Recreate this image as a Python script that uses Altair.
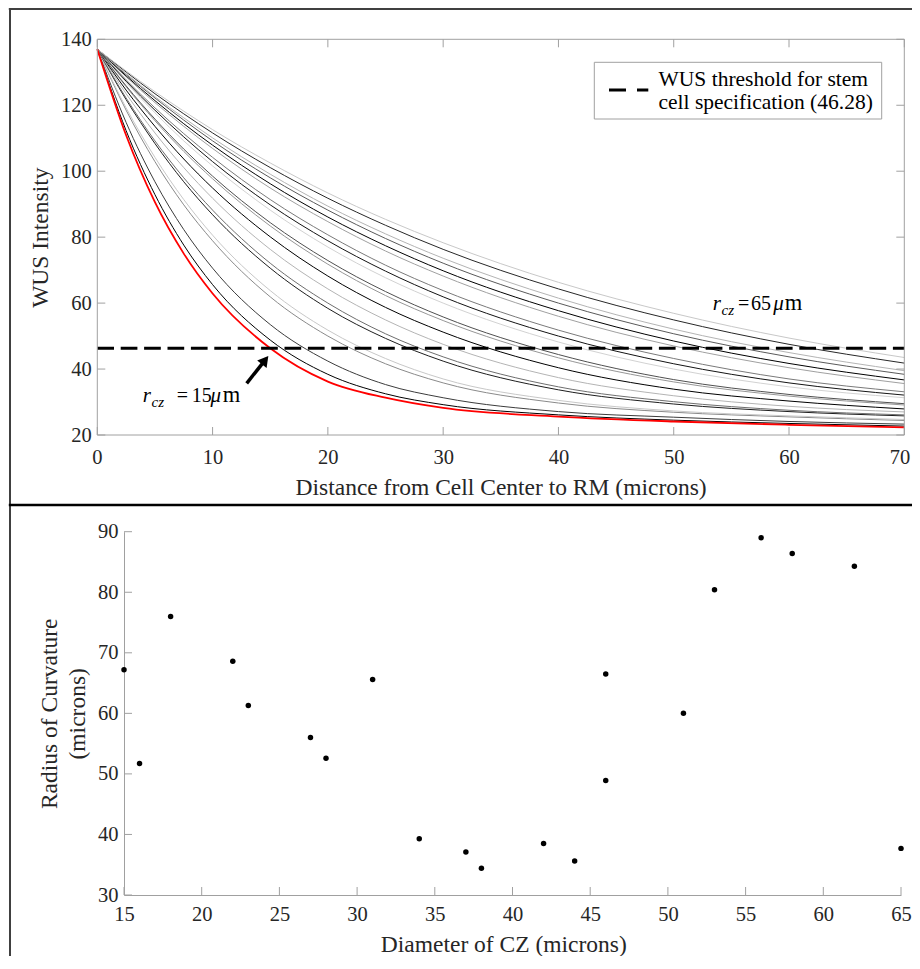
import altair as alt
import pandas as pd

FONT = "Liberation Serif"
TXT = "#262626"
AXC = "#a0a0a0"

# ---------------- data: top panel (WUS intensity profiles) ----------------
distance = [0, 2.5, 5, 7.5, 10, 15, 20, 25, 30, 40, 50, 60, 70]
r_cz = [16, 18, 22, 23, 27, 28, 31, 34, 37, 38, 42, 44, 46, 51, 53, 56, 58, 62, 65]
wus_r15 = [137, 110.9, 90.6, 75.0, 62.9, 46.3, 36.2, 31.3, 28.2, 25.6, 24.1, 23.1, 22.3]
wus_r16 = [137, 112.3, 92.9, 77.6, 65.6, 48.8, 38.4, 32.5, 29.2, 26.1, 24.5, 23.5, 22.7]
wus_r18 = [137, 114.8, 96.8, 82.3, 70.6, 53.5, 42.4, 35.3, 31.3, 27.1, 25.4, 24.1, 23.3]
wus_r22 = [137, 118.5, 102.9, 89.8, 78.9, 61.9, 50.0, 41.6, 35.8, 29.7, 26.9, 25.5, 24.4]
wus_r23 = [137, 119.2, 104.2, 91.4, 80.6, 63.8, 51.8, 43.2, 37.0, 30.5, 27.3, 25.8, 24.7]
wus_r27 = [137, 121.7, 108.4, 96.8, 86.8, 70.6, 58.4, 49.3, 42.4, 33.7, 29.4, 27.1, 25.8]
wus_r28 = [137, 122.2, 109.2, 98.0, 88.2, 72.1, 60.0, 50.7, 43.7, 34.6, 30.1, 27.5, 26.1]
wus_r31 = [137, 123.5, 111.6, 101.1, 91.8, 76.3, 64.3, 54.9, 47.5, 37.4, 31.9, 28.7, 27.0]
wus_r34 = [137, 124.6, 113.6, 103.7, 94.9, 80.1, 68.2, 58.7, 51.2, 40.4, 33.9, 30.3, 27.9]
wus_r37 = [137, 125.6, 115.3, 106.0, 97.7, 83.4, 71.8, 62.3, 54.7, 43.4, 36.1, 31.8, 29.1]
wus_r38 = [137, 125.9, 115.8, 106.7, 98.5, 84.4, 72.9, 63.5, 55.8, 44.4, 36.8, 32.3, 29.5]
wus_r42 = [137, 126.9, 117.7, 109.2, 101.6, 88.2, 77.0, 67.7, 60.0, 48.2, 40.0, 34.6, 31.3]
wus_r44 = [137, 127.3, 118.5, 110.4, 102.9, 89.8, 78.9, 69.7, 61.9, 50.0, 41.6, 35.8, 32.1]
wus_r46 = [137, 127.7, 119.2, 111.4, 104.2, 91.4, 80.7, 71.5, 63.8, 51.8, 43.2, 37.0, 33.1]
wus_r51 = [137, 128.6, 120.8, 113.6, 106.9, 94.9, 84.7, 75.8, 68.2, 56.0, 47.0, 40.4, 35.6]
wus_r53 = [137, 128.9, 121.4, 114.4, 107.9, 96.2, 86.1, 77.4, 69.8, 57.7, 48.5, 41.7, 36.7]
wus_r56 = [137, 129.3, 122.2, 115.5, 109.2, 98.0, 88.2, 79.6, 72.1, 60.0, 50.7, 43.7, 38.4]
wus_r58 = [137, 129.6, 122.6, 116.2, 110.1, 99.1, 89.4, 81.0, 73.6, 61.5, 52.1, 45.0, 39.5]
wus_r62 = [137, 130.1, 123.5, 117.4, 111.6, 101.1, 91.8, 83.6, 76.3, 64.3, 54.9, 47.5, 41.8]
wus_r65 = [137, 130.4, 124.1, 118.2, 112.6, 102.5, 93.4, 85.4, 78.3, 66.3, 56.9, 49.4, 43.5]
gray_curves = [wus_r16, wus_r18, wus_r22, wus_r23, wus_r27, wus_r28, wus_r31, wus_r34,
               wus_r37, wus_r38, wus_r42, wus_r44, wus_r46, wus_r51, wus_r53, wus_r56,
               wus_r58, wus_r62, wus_r65]
shades = ["#000000", "#3c3c3c", "#8a8a8a", "#c8c8c8", "#1e1e1e", "#6e6e6e", "#b4b4b4",
          "#000000", "#969696", "#505050", "#d2d2d2", "#141414", "#7a7a7a", "#a0a0a0",
          "#000000", "#5a5a5a", "#b4b4b4", "#282828", "#c8c8c8"]
threshold = [46.28]
top_xticks = [0, 10, 20, 30, 40, 50, 60, 70]
top_yticks = [20, 40, 60, 80, 100, 120, 140]

# ---------------- data: bottom panel (scatter) ----------------
diameter_cz = [15, 16, 18, 22, 23, 27, 28, 31, 34, 37, 38, 42, 44, 46, 46, 51, 53, 56, 58, 62, 65]
radius_curv = [67.2, 51.7, 76.0, 68.6, 61.3, 56.0, 52.6, 65.6, 39.3, 37.1, 34.4, 38.5, 35.6,
               66.5, 48.9, 60.0, 80.4, 89.0, 86.4, 84.3, 37.7]
bot_xticks = [15, 20, 25, 30, 35, 40, 45, 50, 55, 60, 65]
bot_yticks = [30, 40, 50, 60, 70, 80, 90]

# ---------------- tables ----------------
rows = []
for r, vals, col in zip(r_cz, gray_curves, shades):
    for d, v in zip(distance, vals):
        rows.append({"d": d, "wus": v, "r": r, "col": col})
curves_df = pd.DataFrame(rows)
red_df = pd.DataFrame({"d": distance, "wus": wus_r15})
thr_df = pd.DataFrame({"y": threshold})
txk = pd.DataFrame({"v": top_xticks})
tyk = pd.DataFrame({"v": top_yticks})
bxk = pd.DataFrame({"v": bot_xticks})
byk = pd.DataFrame({"v": bot_yticks})
sc_df = pd.DataFrame({"dcz": diameter_cz, "roc": radius_curv})
one = pd.DataFrame({"k": [0]})

# ---------------- geometry (pixels, relative to the view origin) ----------------
W = 807
TOP_H = 395.7
BOT_TOP = 492.4
BOT_BOT = 855.7
BOT_L = 26.7
BOT_R = 803.7
TICK = 8

topX = alt.Scale(domain=[0, 70], range=[0, W], nice=False, zero=False)
topY = alt.Scale(domain=[20, 140], range=[TOP_H, 0], nice=False, zero=False)
botX = alt.Scale(domain=[15, 65], range=[BOT_L, BOT_R], nice=False, zero=False)
botY = alt.Scale(domain=[30, 90], range=[BOT_BOT, BOT_TOP], nice=False, zero=False)

ax_common = dict(grid=False, ticks=False, labelFont=FONT, labelFontSize=20.5,
                 labelColor=TXT, titleFont=FONT, titleFontSize=23.5,
                 titleFontWeight="normal", titleColor=TXT,
                 labelOverlap=False, titleBaseline="alphabetic", titleAlign="center")

top_x_axis = alt.Axis(orient="bottom", offset=-(BOT_BOT - TOP_H), values=top_xticks,
                      domain=False, labelPadding=12, format="d",
                      labelFlush=True, labelFlushOffset=5.5,
                      title="Distance from Cell Center to RM (microns)",
                      titleX=403.3, titleY=59.8, **ax_common)
top_y_axis = alt.Axis(orient="left", values=top_yticks, domain=False, labelPadding=6,
                      format="d", labelFlush=False, title="WUS Intensity",
                      titleX=-50.1, titleY=197.9, **ax_common)
bot_x_axis = alt.Axis(orient="bottom", values=bot_xticks, domain=True, domainColor=AXC,
                      domainWidth=1, labelPadding=9.4, format="d", labelFlush=False,
                      title="Diameter of CZ (microns)", titleX=406, titleY=56.0, **ax_common)
bot_y_axis = alt.Axis(orient="left", offset=-BOT_L, values=bot_yticks, domain=True,
                      domainColor=AXC, domainWidth=1, labelPadding=6, format="d",
                      labelFlush=False, title=["Radius of Curvature", "(microns)"],
                      titleX=-67.5, titleY=674, titleLineHeight=28, **ax_common)

# ---------------- top panel layers ----------------
gray_lines = alt.Chart(curves_df).mark_line(strokeWidth=1, interpolate="monotone").encode(
    x=alt.X("d:Q", scale=topX, axis=top_x_axis),
    y=alt.Y("wus:Q", scale=topY, axis=top_y_axis),
    color=alt.Color("col:N", scale=None),
    detail="r:N",
)
red_line = alt.Chart(red_df).mark_line(strokeWidth=1.8, color="#ff0000", interpolate="monotone").encode(
    x=alt.X("d:Q", scale=topX, axis=None),
    y=alt.Y("wus:Q", scale=topY, axis=None),
)
thr_line = alt.Chart(thr_df).mark_rule(color="black", strokeWidth=3, strokeDash=[16.7, 6.7]).encode(
    y=alt.Y("y:Q", scale=topY, axis=None), x=alt.value(0), x2=alt.value(W)
)
box = alt.Chart(one).mark_rect(fill=None, stroke=AXC, strokeWidth=1).encode(
    x=alt.value(0), x2=alt.value(W), y=alt.value(0), y2=alt.value(TOP_H)
)
tk = dict(color=AXC, strokeWidth=1)
t_xb = alt.Chart(txk).mark_rule(**tk).encode(
    x=alt.X("v:Q", scale=topX, axis=None), y=alt.value(TOP_H), y2=alt.value(TOP_H - TICK))
t_xt = alt.Chart(txk).mark_rule(**tk).encode(
    x=alt.X("v:Q", scale=topX, axis=None), y=alt.value(0), y2=alt.value(TICK))
t_yl = alt.Chart(tyk).mark_rule(**tk).encode(
    y=alt.Y("v:Q", scale=topY, axis=None), x=alt.value(0), x2=alt.value(TICK))
t_yr = alt.Chart(tyk).mark_rule(**tk).encode(
    y=alt.Y("v:Q", scale=topY, axis=None), x=alt.value(W), x2=alt.value(W - TICK))

leg_box = alt.Chart(one).mark_rect(fill="white", stroke=AXC, strokeWidth=1).encode(
    x=alt.value(497), x2=alt.value(784.4), y=alt.value(23), y2=alt.value(79.7))
leg_dash = alt.Chart(one).mark_rule(color="black", strokeWidth=3, strokeDash=[17, 11]).encode(
    x=alt.value(511.7), x2=alt.value(551), y=alt.value(50.7))


def txt(s, x, y, size=21.5, italic=False, color="black"):
    return alt.Chart(one).mark_text(
        text=s, font=FONT, fontSize=size, fontStyle="italic" if italic else "normal",
        align="left", baseline="alphabetic", color=color
    ).encode(x=alt.value(x), y=alt.value(y))


leg_t1 = txt("WUS threshold for stem", 561.2, 46.4)
leg_t2 = txt("cell specification (46.28)", 561.2, 69.7)

ann = [
    txt("r", 45.5, 362.4, 21, True), txt("cz", 54.2, 367.4, 15, True),
    txt("=", 79.4, 362.4, 20), txt("15", 94.5, 362.4, 20),
    txt("\u03bc", 113.2, 362.4, 21, True), txt("m", 125.4, 362.4, 22.5),
    txt("r", 615.5, 270.7, 21, True), txt("cz", 624.2, 275.7, 15, True),
    txt("=", 640.7, 270.7, 20), txt("65", 653.8, 270.7, 20),
    txt("\u03bc", 675.9, 270.7, 21, True), txt("m", 687.4, 270.7, 22.5),
]
arrow_shaft = alt.Chart(one).mark_rule(color="black", strokeWidth=3.5).encode(
    x=alt.value(149.4), y=alt.value(344.0), x2=alt.value(166.8), y2=alt.value(322.0))
arrow_head = alt.Chart(one).mark_point(shape="triangle-up", filled=True, size=144, angle=38.3,
                                       color="black", opacity=1).encode(
    x=alt.value(167.8), y=alt.value(320.8))

frame_top = alt.Chart(one).mark_rule(color="#404040", strokeWidth=2).encode(
    x=alt.value(-88.5), x2=alt.value(830), y=alt.value(-30.3))
frame_left = alt.Chart(one).mark_rule(color="#404040", strokeWidth=2).encode(
    x=alt.value(-87.3), y=alt.value(-30.3), y2=alt.value(940))
separator = alt.Chart(one).mark_rule(color="black", strokeWidth=2.5).encode(
    x=alt.value(-88.5), x2=alt.value(830), y=alt.value(465.7))

# ---------------- bottom panel layers ----------------
scatter = alt.Chart(sc_df).mark_circle(size=30, color="black", opacity=1).encode(
    x=alt.X("dcz:Q", scale=botX, axis=bot_x_axis),
    y=alt.Y("roc:Q", scale=botY, axis=bot_y_axis),
)
b_xt = alt.Chart(bxk).mark_rule(**tk).encode(
    x=alt.X("v:Q", scale=botX, axis=None), y=alt.value(BOT_BOT), y2=alt.value(BOT_BOT - TICK))
b_yt = alt.Chart(byk).mark_rule(**tk).encode(
    y=alt.Y("v:Q", scale=botY, axis=None), x=alt.value(BOT_L), x2=alt.value(BOT_L + TICK))

chart = alt.layer(
    gray_lines, scatter, red_line, thr_line, box, t_xb, t_xt, t_yl, t_yr,
    leg_box, leg_dash, leg_t1, leg_t2, *ann, arrow_shaft, arrow_head,
    frame_top, frame_left, separator, b_xt, b_yt,
).resolve_scale(x="independent", y="independent").properties(
    width=W, height=BOT_BOT,
    autosize=alt.AutoSizeParams(type="none"),
    padding={"left": 89.3, "top": 31.3, "right": 7.7, "bottom": 61.0},
    background="white",
).configure_view(stroke=None).configure_text(font=FONT)

chart.save("out.html", embed_options={"renderer": "svg", "actions": False})
